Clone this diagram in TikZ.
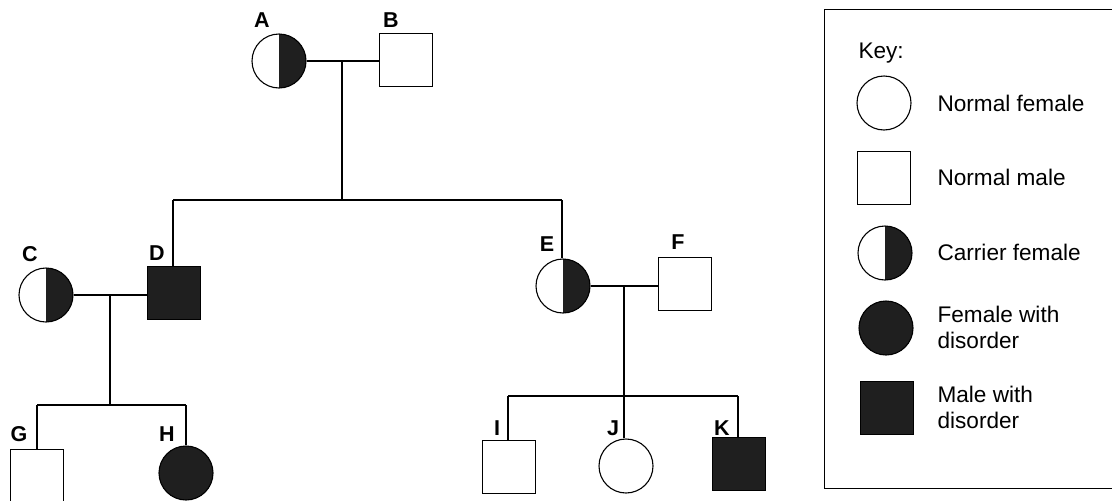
\documentclass[tikz,border=0pt]{standalone}
\usepackage{fontspec}
\setmainfont{Liberation Sans}
\definecolor{dk}{gray}{0.12}
\begin{document}
\begin{tikzpicture}[x=1pt,y=-1pt,line width=1.1pt,
  fem/.style={circle,draw,minimum size=54pt,inner sep=0pt},
  mal/.style={rectangle,draw,minimum size=53pt,inner sep=0pt},
  aff/.style={fill=dk},
  carrier/.style={fem,path picture={\fill[dk] (path picture bounding box.north) rectangle (path picture bounding box.south east);}},
  lab/.style={font=\fontsize{21.5}{21.5}\selectfont\bfseries,inner sep=0pt},
  key/.style={font=\fontsize{22.6}{26}\selectfont,anchor=west,align=left,inner sep=0pt}]
\useasboundingbox (0,0) rectangle (1112,501);
% pedigree symbols
\node[carrier] (A) at (279,61) {};
\node[mal] (B) at (406,60) {};
\node[carrier] (C) at (46,295) {};
\node[mal,aff] (D) at (174,293) {};
\node[carrier] (E) at (563,286) {};
\node[mal] (F) at (685,284) {};
\node[mal] (G) at (37,476) {};
\node[fem,aff] (H) at (186,473) {};
\node[mal] (I) at (509,467) {};
\node[fem] (J) at (626,466) {};
\node[mal,aff] (K) at (739,464) {};
% labels
\node[lab] (lA) at (262,20) {A};
\node[lab] (lB) at (391,20) {B};
\node[lab] (lC) at (30,254) {C};
\node[lab] (lD) at (157,253) {D};
\node[lab] (lE) at (547,244) {E};
\node[lab] (lF) at (678,242) {F};
\node[lab] (lG) at (19,434) {G};
\node[lab] (lH) at (167,434) {H};
\node[lab] (lI) at (497,428) {I};
\node[lab] (lJ) at (613,428) {J};
\node[lab] (lK) at (722,428) {K};
% junction coordinates
\coordinate (mAB) at (342,61);
\coordinate (sib1) at (342,200);
\coordinate (s1L) at (173,200);
\coordinate (s1R) at (562,200);
\coordinate (mCD) at (110,294);
\coordinate (sib2) at (110,405);
\coordinate (s2L) at (37,405);
\coordinate (s2R) at (186,405);
\coordinate (mEF) at (624,286);
\coordinate (sib3) at (624,396);
\coordinate (s3L) at (508,396);
\coordinate (s3R) at (738,396);
% connectors
\draw (A.east) -- (A.east -| B.west);
\draw (mAB) -- (sib1);
\draw (s1L) -- (s1R);
\draw (s1L) -- (s1L |- D.north);
\draw (s1R) -- (s1R |- E.north);
\draw (C.east) -- (C.east -| D.west);
\draw (mCD) -- (sib2);
\draw (s2L) -- (s2R);
\draw (s2L) -- (s2L |- G.north);
\draw (s2R) -- (s2R |- H.north);
\draw (E.east) -- (E.east -| F.west);
\draw (mEF) -- (sib3);
\draw (s3L) -- (s3R);
\draw (s3L) -- (s3L |- I.north);
\draw (sib3) -- (sib3 |- J.north);
\draw (s3R) -- (s3R |- K.north);
% key
\draw[line width=1pt] (1116,9) -- (824,9) -- (824,488) -- (1116,488);
\node[key] (kt) at (858,53) {Key:};
\node[fem] (k1) at (884,103) {};
\node[key] (k1t) at (937,103) {Normal female};
\node[mal] (k2) at (884,178) {};
\node[key] (k2t) at (937,177) {Normal male};
\node[carrier] (k3) at (885,253) {};
\node[key] (k3t) at (937,252) {Carrier female};
\node[fem,aff] (k4) at (886,328) {};
\node[key] (k4t) at (937,327) {Female with\\disorder};
\node[mal,aff] (k5) at (887,408) {};
\node[key] (k5t) at (937,407) {Male with\\disorder};
\end{tikzpicture}
\end{document}
